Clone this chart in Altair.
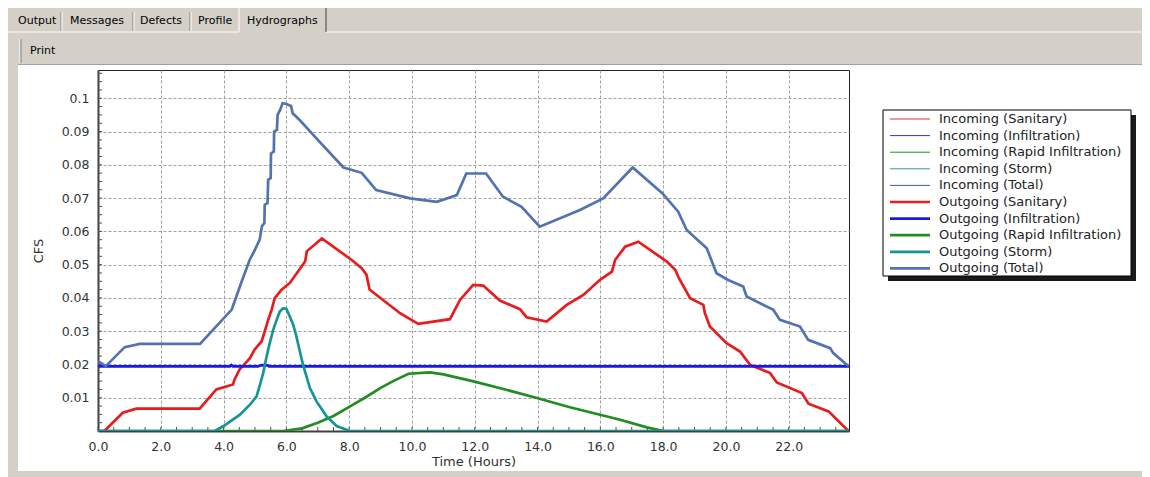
import altair as alt
import pandas as pd

# ---------------- data (time in hours, flow in CFS) ----------------
sanitary_t = [0.0, 0.2, 0.79, 1.22, 3.24, 3.77, 4.3, 4.35, 4.51, 4.84, 4.99, 5.21, 5.31, 5.42,
              5.53, 5.63, 5.84, 6.11, 6.45, 6.6, 6.65, 7.13, 8.08, 8.4, 8.55, 8.65, 9.62, 10.2,
              11.21, 11.53, 11.95, 12.27, 12.8, 13.44, 13.65, 14.29, 14.93, 15.46, 16.0, 16.37,
              16.47, 16.79, 17.21, 18.12, 18.39, 18.5, 18.86, 19.28, 19.33, 19.49, 20.02, 20.45,
              20.77, 21.41, 21.62, 22.42, 22.63, 23.27, 23.86, 23.92]
sanitary_v = [0.0, 0.0, 0.0055, 0.0067, 0.0067, 0.0125, 0.014, 0.0155, 0.0185, 0.0219, 0.0245,
              0.0269, 0.0299, 0.0334, 0.0364, 0.0399, 0.0424, 0.0445, 0.049, 0.051, 0.054, 0.0579,
              0.0514, 0.0489, 0.047, 0.0425, 0.0354, 0.0322, 0.0336, 0.0394, 0.0439, 0.0437,
              0.0392, 0.0366, 0.0342, 0.0329, 0.0379, 0.0409, 0.0455, 0.0479, 0.0514, 0.0554,
              0.0569, 0.0509, 0.0484, 0.046, 0.0399, 0.0379, 0.0354, 0.0314, 0.0264, 0.0239,
              0.0199, 0.0174, 0.0146, 0.0114, 0.0082, 0.0059, 0.0004, 0.0]

infiltration_t = [0.0, 4.2, 4.25, 4.3, 5.1, 5.2, 5.4, 5.45, 23.92]
infiltration_v = [0.0194, 0.0194, 0.0198, 0.0194, 0.0194, 0.0198, 0.0197, 0.0194, 0.0194]

rapid_t = [0.0, 5.9, 6.5, 7.0, 7.5, 8.03, 8.5, 8.99, 9.4, 9.89, 10.58, 11.0, 11.96, 13.0,
           13.98, 15.0, 15.99, 16.63, 17.48, 18.01, 23.92]
rapid_v = [0.0, 0.0, 0.0008, 0.0025, 0.0045, 0.0074, 0.01, 0.0129, 0.015, 0.0172, 0.0176,
           0.017, 0.0149, 0.0124, 0.0099, 0.0072, 0.0049, 0.0034, 0.0011, 0.0, 0.0]

storm_t = [0.0, 3.72, 4.0, 4.52, 4.84, 5.05, 5.16, 5.26, 5.37, 5.47, 5.58, 5.69, 5.79, 5.9,
           6.0, 6.11, 6.22, 6.32, 6.43, 6.53, 6.64, 6.75, 6.96, 7.28, 7.6, 8.02, 23.92]
storm_v = [0.0, 0.0, 0.0015, 0.0049, 0.0079, 0.0104, 0.0139, 0.0174, 0.0224, 0.0264, 0.0304,
           0.0334, 0.0359, 0.0369, 0.0367, 0.0344, 0.0319, 0.0284, 0.0239, 0.0199, 0.0164,
           0.0129, 0.0089, 0.0044, 0.0015, 0.0, 0.0]

total_t = [0.0, 0.25, 0.85, 1.33, 3.25, 4.26, 4.57, 4.83, 5.0, 5.15, 5.22, 5.3, 5.31, 5.4,
           5.42, 5.5, 5.51, 5.6, 5.61, 5.7, 5.72, 5.8, 5.88, 6.0, 6.15, 6.2, 6.43, 7.06, 7.82,
           8.4, 8.86, 9.94, 10.79, 11.43, 11.73, 12.36, 12.9, 13.49, 14.07, 15.35, 16.09,
           17.03, 17.98, 18.48, 18.75, 19.39, 19.7, 20.07, 20.55, 20.66, 21.51, 21.72, 22.36,
           22.62, 23.32, 23.42, 23.85, 23.92]
total_v = [0.021, 0.0195, 0.0252, 0.0262, 0.0262, 0.0365, 0.0448, 0.0514, 0.0545, 0.0575,
           0.0615, 0.0625, 0.068, 0.0685, 0.0755, 0.076, 0.0834, 0.084, 0.09, 0.0905, 0.095,
           0.0965, 0.0985, 0.0983, 0.0977, 0.0955, 0.0934, 0.0869, 0.0792, 0.0776, 0.0724,
           0.0699, 0.0689, 0.0709, 0.0774, 0.0774, 0.0704, 0.0674, 0.0614, 0.0664, 0.0699,
           0.0792, 0.0714, 0.0659, 0.0604, 0.0549, 0.0474, 0.0454, 0.0434, 0.0404, 0.0364,
           0.0334, 0.0314, 0.0274, 0.0249, 0.0234, 0.0199, 0.0196]

series_names = ["Incoming (Sanitary)", "Incoming (Infiltration)", "Incoming (Rapid Infiltration)",
                "Incoming (Storm)", "Incoming (Total)", "Outgoing (Sanitary)",
                "Outgoing (Infiltration)", "Outgoing (Rapid Infiltration)", "Outgoing (Storm)",
                "Outgoing (Total)"]
# incoming and outgoing hydrographs coincide for this pipe
series_data = [(sanitary_t, sanitary_v), (infiltration_t, infiltration_v), (rapid_t, rapid_v),
               (storm_t, storm_v), (total_t, total_v)] * 2

x_ticks = [0, 2, 4, 6, 8, 10, 12, 14, 16, 18, 20, 22]
y_ticks = [0.01, 0.02, 0.03, 0.04, 0.05, 0.06, 0.07, 0.08, 0.09, 0.1]
x_minor = [i * 0.5 for i in range(48)]
y_minor = [i * 0.0025 for i in range(1, 44)]
tab_labels = ["Output", "Messages", "Defects", "Profile", "Hydrographs"]

# ---------------- styling ----------------
series_colors = ["#e03030", "#3535c8", "#2a8a2a", "#3a9a9a", "#45589a",
                 "#e81c1c", "#1818e8", "#238c23", "#159595", "#5272b0"]
series_widths = [1, 1, 1, 1, 1, 2.7, 2.7, 2.7, 2.7, 2.7]
FONT = "DejaVu Sans"
GRAY = "#d4d0c8"
W, H = 751, 361

xscale = alt.Scale(domain=[0, 23.92], nice=False, zero=False)
yscale = alt.Scale(domain=[0, 0.1085], nice=False, zero=False)
cscale = alt.Scale(domain=series_names, range=series_colors)

xaxis = alt.Axis(values=x_ticks, format=".1f", labelFlush=False, tickSize=0,
                 labelPadding=9, titlePadding=3, grid=True)
yaxis = alt.Axis(values=y_ticks, format=".2~f", tickSize=0, labelPadding=9,
                 titlePadding=16, grid=True)
X_T = "Time (Hours)"
Y_T = "CFS"

one = pd.DataFrame({"k": [0]})


def line_layer(name, t, v, width):
    df = pd.DataFrame({"t": t, "v": v, "series": name})
    return alt.Chart(df).mark_line(strokeWidth=width, clip=True).encode(
        x=alt.X("t:Q", scale=xscale, axis=xaxis, title=X_T),
        y=alt.Y("v:Q", scale=yscale, axis=yaxis, title=Y_T),
        color=alt.Color("series:N", scale=cscale, legend=None),
    )


# small inward ticks on the bottom and left axes
x_minor_layer = alt.Chart(pd.DataFrame({"t": x_minor})).mark_rule(
    color="#505050", strokeWidth=1).encode(
    x=alt.X("t:Q", scale=xscale, axis=xaxis, title=X_T),
    y=alt.value(H - 4), y2=alt.value(H))
y_minor_layer = alt.Chart(pd.DataFrame({"v": y_minor})).mark_rule(
    color="#505050", strokeWidth=1).encode(
    y=alt.Y("v:Q", scale=yscale, axis=yaxis, title=Y_T),
    x=alt.value(0), x2=alt.value(4))

data_layer = alt.layer(
    x_minor_layer, y_minor_layer,
    *[line_layer(n, d[0], d[1], w) for n, d, w in zip(series_names, series_data, series_widths)]
)

# ---------------- legend (built from the series list) ----------------
leg_df = pd.DataFrame({"series": series_names, "idx": list(range(len(series_names))),
                       "w": series_widths})
leg_y = alt.Y("idx:Q", scale=alt.Scale(domain=[0, 9], range=[49, 198.4], nice=False,
                                       zero=False), axis=None)


def box(x1, x2, y1, y2, fill, stroke=None, sw=1):
    kw = dict(fill=fill)
    if stroke:
        kw.update(stroke=stroke, strokeWidth=sw)
    return alt.Chart(one).mark_rect(**kw).encode(
        x=alt.value(x1), x2=alt.value(x2), y=alt.value(y1), y2=alt.value(y2))


def hrule(x1, x2, y, color, w=1):
    return alt.Chart(one).mark_rule(color=color, strokeWidth=w).encode(
        x=alt.value(x1), x2=alt.value(x2), y=alt.value(y))


def vrule(x, y1, y2, color, w=1):
    return alt.Chart(one).mark_rule(color=color, strokeWidth=w).encode(
        x=alt.value(x), y=alt.value(y1), y2=alt.value(y2))


def label(text, x, y, size=11, align="left"):
    return alt.Chart(one).mark_text(text=text, font=FONT, fontSize=size, align=align,
                                    baseline="middle", color="#000000").encode(
        x=alt.value(x), y=alt.value(y))


def leg_rule(df, width):
    return alt.Chart(df).mark_rule(strokeWidth=width).encode(
        x=alt.value(792), x2=alt.value(832), y=leg_y,
        color=alt.Color("series:N", scale=cscale, legend=None))


leg_thin = leg_rule(leg_df[leg_df["w"] < 2], 1)
leg_thick = leg_rule(leg_df[leg_df["w"] >= 2], 2.7)
leg_text = alt.Chart(leg_df).mark_text(align="left", baseline="middle", font=FONT,
                                       fontSize=13, color="#222222").encode(
    x=alt.value(841), y=leg_y, text="series:N")

legend_layer = alt.layer(
    box(790, 1038, 45, 211, "#1a1a1a"),
    box(785, 1033, 40, 206, "#ffffff", "#000000", 1),
    leg_thin, leg_thick, leg_text,
)

# ---------------- window decoration (plot-relative pixels) ----------------
background = [
    box(-100, 1060, -72, -5, GRAY),      # tab strip + toolbar
    box(-100, -80, -5, 410, GRAY),       # left frame
    box(-100, 1060, 401, 410, GRAY),     # bottom frame
    hrule(-100, 141, -38, "#ffffff"),
    hrule(228, 1060, -38, "#ffffff"),
    hrule(-80, 1060, -5.5, "#a0a0a0"),
    vrule(-78, -31, -7, "#ffffff"),
    vrule(-77, -31, -7, "#808080"),
    # tab separators
    vrule(-37, -58, -39, "#808080"), vrule(-36, -58, -39, "#ffffff"),
    vrule(35, -58, -39, "#808080"), vrule(36, -58, -39, "#ffffff"),
    vrule(92, -58, -39, "#808080"), vrule(93, -58, -39, "#ffffff"),
    # active tab
    vrule(141, -64, -38, "#ffffff"),
    hrule(141, 228, -64, "#ffffff"),
    vrule(228, -64, -38, "#404040"),
]
tab_x = [-80, -28, 42, 100, 149]
tabs = [label(t, x, -49) for t, x in zip(tab_labels, tab_x)]
texts = tabs + [label("Print", -68, -19)]

chart = alt.layer(
    *background, data_layer, legend_layer, *texts
).resolve_scale(y="independent").properties(
    width=W, height=H,
    autosize=alt.AutoSizeParams(type="none"),
    padding={"left": 90, "top": 62, "right": 293, "bottom": 46},
    background="#ffffff",
).configure_view(
    fill="#ffffff", stroke="#222222", strokeWidth=1
).configure_axis(
    labelFont=FONT, labelFontSize=12.5, labelColor="#333333",
    titleFont=FONT, titleFontSize=13, titleFontWeight="normal", titleColor="#333333",
    domainColor="#404040", domainWidth=2,
    gridColor="#a0a0a0", gridDash=[3, 2], gridWidth=1,
)

chart.save("out.html", embed_options={"renderer": "svg", "actions": False})
